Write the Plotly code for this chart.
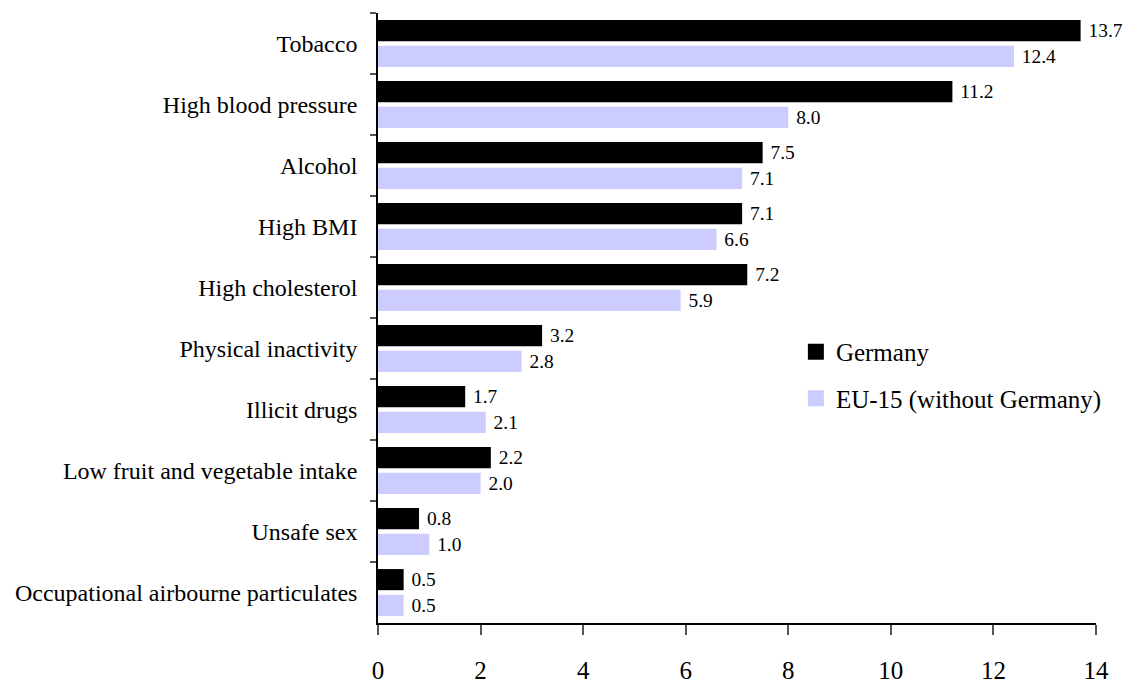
import plotly.graph_objects as go

categories = ["Tobacco", "High blood pressure", "Alcohol", "High BMI", "High cholesterol",
              "Physical inactivity", "Illicit drugs", "Low fruit and vegetable intake",
              "Unsafe sex", "Occupational airbourne particulates"]
germany = [13.7, 11.2, 7.5, 7.1, 7.2, 3.2, 1.7, 2.2, 0.8, 0.5]
eu15 = [12.4, 8.0, 7.1, 6.6, 5.9, 2.8, 2.1, 2.0, 1.0, 0.5]
series_names = ["Germany", "EU-15 (without Germany)"]
series_colors = ["#000000", "#CCCCFF"]
x_ticks = [0, 2, 4, 6, 8, 10, 12, 14]

FONT = "Liberation Serif, Times New Roman, Times, serif"

fig = go.Figure()
for name, vals, col in zip(series_names, [germany, eu15], series_colors):
    fig.add_trace(go.Bar(
        y=categories, x=vals, orientation="h", name=name, showlegend=False,
        marker=dict(color=col, line=dict(width=0)),
        texttemplate=" %{x:.1f}", textposition="outside",
        textfont=dict(family=FONT, size=23, color="#000000"), cliponaxis=False,
    ))
# legend entries with larger square swatches
for i, (name, col) in enumerate(zip(series_names, series_colors)):
    fig.add_trace(go.Scatter(
        x=[None], y=[None], mode="markers", name=name, legendgroup=f"g{i}",
        marker=dict(symbol="square", size=16, color=col, line=dict(width=0)),
        showlegend=True,
    ))

fig.update_layout(
    width=1131, height=684,
    margin=dict(l=370, r=43, t=5, b=69),
    paper_bgcolor="white", plot_bgcolor="white",
    barmode="group", bargap=0.156, bargroupgap=0.18,
    font=dict(family=FONT, size=22, color="#000000"),
    showlegend=True,
    legend=dict(x=0.582, y=0.482, xanchor="left", yanchor="top",
                font=dict(family=FONT, size=25), bgcolor="rgba(0,0,0,0)",
                tracegroupgap=11, itemsizing="trace"),
)
fig.update_xaxes(
    range=[0, 14], tickvals=x_ticks, ticktext=[str(t) for t in x_ticks],
    showgrid=False, zeroline=False, showline=True, linecolor="#000000", linewidth=1.5,
    ticks="outside", ticklen=10, tickcolor="#555555", tickwidth=1.5,
    tickfont=dict(family=FONT, size=25), ticklabelstandoff=14, automargin=False,
)
fig.update_yaxes(
    autorange="reversed", showgrid=False, zeroline=False,
    showline=True, linecolor="#000000", linewidth=1.5,
    ticks="outside", tickson="boundaries", ticklen=6, tickcolor="#555555", tickwidth=1.5,
    tickfont=dict(family=FONT, size=24), ticklabelstandoff=14, automargin=False,
)

fig.write_html("out.html")
